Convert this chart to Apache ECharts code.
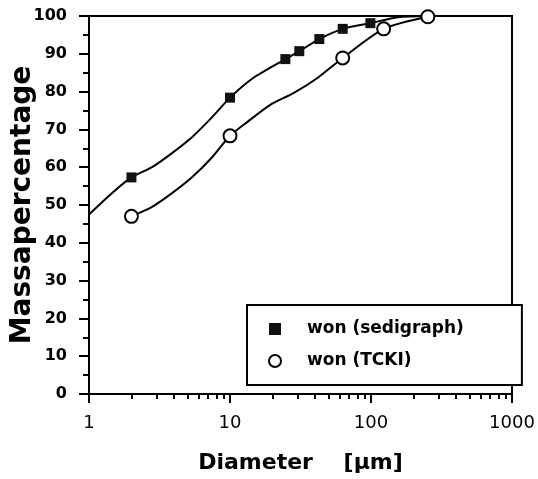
<!DOCTYPE html>
<html>
<head>
<meta charset="utf-8">
<script src="https://cdn.jsdelivr.net/npm/echarts@6/dist/echarts.min.js"></script>
<style>
html,body{margin:0;padding:0;background:#fff;}
#chart{width:538px;height:479px;}
</style>
</head>
<body>
<div id="chart"></div>
<script>
// Marker data
const sediX = [2, 10, 24.7, 31, 43, 63, 99];
const sediY = [57.3, 78.4, 88.6, 90.7, 93.9, 96.6, 98.1];
const tckiX = [2, 10, 63, 123, 253];
const tckiY = [47, 68.3, 88.9, 96.6, 99.8];
// Smooth fitted curves
const sediCurveX = [1, 1.46, 2, 2.8, 3.9, 5.4, 7.5, 10, 14.6, 24.7, 31, 43, 63, 99, 155, 253];
const sediCurveY = [47.5, 53.2, 57.3, 60, 63.8, 68, 73.3, 78.4, 83.6, 88.6, 90.7, 93.9, 96.6, 98.1, 99.7, 100];
const tckiCurveX = [2, 2.8, 3.9, 5.4, 7.5, 10, 13.3, 19.3, 28.2, 41.7, 63, 123, 253];
const tckiCurveY = [47, 49.5, 53.2, 57.4, 62.7, 68.3, 72, 76.5, 79.6, 83.6, 88.9, 96.6, 99.8];
// Axis ticks
const xMajorTicks = [1, 10, 100, 1000];
const xMinorTicks = [2,3,4,5,6,7,8,9,20,30,40,50,60,70,80,90,200,300,400,500,600,700,800,900];
const seriesNames = ['won (sedigraph)', 'won (TCKI)'];

const zip = (a, b) => a.map((v, i) => [v, b[i]]);

const chart = echarts.init(document.getElementById('chart'), null, {renderer: 'canvas'});
chart.setOption({
  animation: false,
  backgroundColor: '#fff',
  grid: {left: 89, right: 26, top: 16, bottom: 85, show: true, borderColor: '#000', borderWidth: 2, backgroundColor: 'transparent', outerBoundsMode: 'none', containLabel: false},
  legend: {
    data: seriesNames,
    orient: 'vertical',
    left: 247, top: 305,
    padding: [14, 58, 14, 21],
    itemGap: 12,
    itemWidth: 12, itemHeight: 12,
    backgroundColor: '#fff',
    borderColor: '#000', borderWidth: 2, borderRadius: 0,
    textStyle: {fontFamily: 'DejaVu Sans', fontWeight: 'bold', fontSize: 17, color: '#000', lineHeight: 20, padding: [0, 0, 0, 21]}
  },
  xAxis: [{
    type: 'log', logBase: 10, min: 1, max: 1000,
    name: 'Diameter    [µm]', nameLocation: 'middle', nameGap: 58,
    nameTextStyle: {fontFamily: 'DejaVu Sans', fontWeight: 'bold', fontSize: 22, color: '#000'},
    axisLine: {show: true, lineStyle: {color: '#000', width: 2}},
    axisTick: {show: true, inside: false, length: 9, lineStyle: {color: '#000', width: 2}, customValues: xMajorTicks},
    axisLabel: {show: true, margin: 20, color: '#000', fontFamily: 'DejaVu Sans', fontSize: 18, customValues: xMajorTicks, formatter: v => String(v)},
    splitLine: {show: false}, minorTick: {show: false}, minorSplitLine: {show: false}
  }, {
    type: 'log', logBase: 10, min: 1, max: 1000, position: 'bottom', offset: 0,
    axisLine: {show: false},
    axisTick: {show: true, inside: false, length: 5, lineStyle: {color: '#000', width: 2}, customValues: xMinorTicks},
    axisLabel: {show: false},
    splitLine: {show: false}
  }],
  yAxis: {
    type: 'value', min: 0, max: 100, interval: 10,
    name: 'Massapercentage', nameLocation: 'middle', nameGap: 52, nameMoveOverlap: false,
    nameTextStyle: {fontFamily: 'DejaVu Sans', fontWeight: 'bold', fontSize: 28, color: '#000'},
    axisLine: {show: true, lineStyle: {color: '#000', width: 2}},
    axisTick: {show: true, inside: false, length: 10, lineStyle: {color: '#000', width: 2}},
    minorTick: {show: true, splitNumber: 2, length: 6, lineStyle: {color: '#000', width: 2}},
    axisLabel: {margin: 22, color: '#000', fontFamily: 'DejaVu Sans', fontWeight: 'bold', fontSize: 16},
    splitLine: {show: false}
  },
  series: [{
    name: 'sedi-curve', type: 'line', smooth: 0.25, showSymbol: false, symbol: 'none',
    data: zip(sediCurveX, sediCurveY), lineStyle: {color: '#000', width: 2}, z: 2, silent: true
  }, {
    name: 'tcki-curve', type: 'line', smooth: 0.25, showSymbol: false, symbol: 'none',
    data: zip(tckiCurveX, tckiCurveY), lineStyle: {color: '#000', width: 2}, z: 2, silent: true
  }, {
    name: seriesNames[0], type: 'scatter', symbol: 'rect', symbolSize: 10,
    data: zip(sediX, sediY), itemStyle: {color: '#111', opacity: 1}, z: 3
  }, {
    name: seriesNames[1], type: 'scatter', symbol: 'circle', symbolSize: 13,
    data: zip(tckiX, tckiY), itemStyle: {color: '#fff', borderColor: '#000', borderWidth: 2, opacity: 1}, z: 3
  }]
});
</script>
</body>
</html>
